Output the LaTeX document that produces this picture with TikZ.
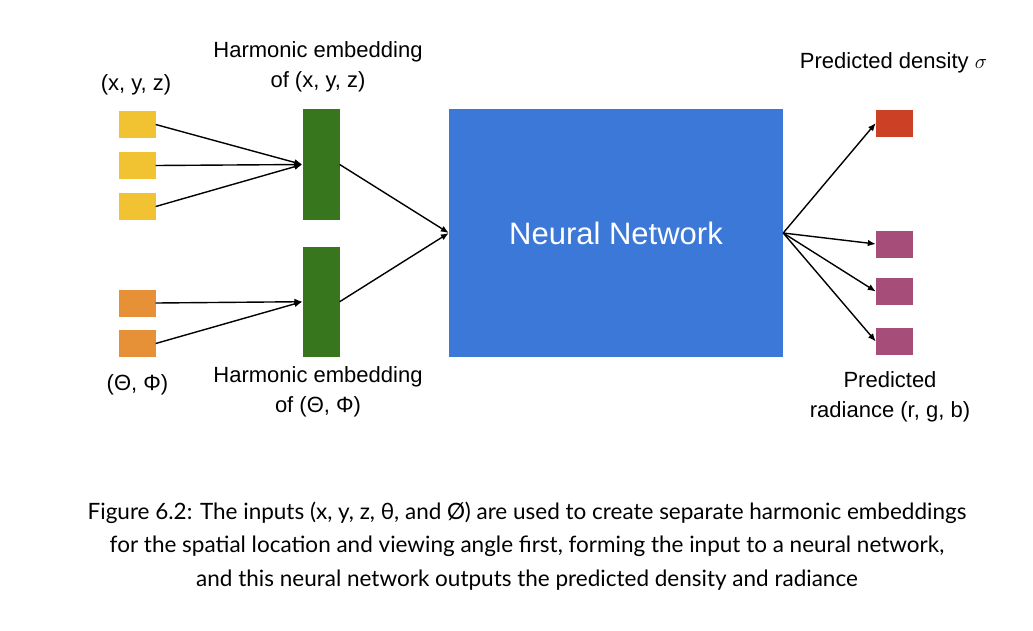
\documentclass[tikz,border=0pt]{standalone}
\usepackage{fontspec}
\setmainfont{Liberation Sans}
\newfontfamily\capfont{Lato}
\usetikzlibrary{arrows.meta}
\definecolor{inyellow}{HTML}{F1C232}
\definecolor{inorange}{HTML}{E69138}
\definecolor{embgreen}{HTML}{38761D}
\definecolor{netblue}{HTML}{3C78D8}
\definecolor{outred}{HTML}{CC4125}
\definecolor{outpink}{HTML}{A64D79}
\def\cellw{37}
\def\cellh{27}
\tikzset{
  cell/.style={minimum width=\cellw pt,minimum height=\cellh pt,inner sep=0pt},
  bar/.style={minimum width=\cellw pt,inner sep=0pt,fill=embgreen},
  link/.style={line width=1.4pt,-{Latex[length=8pt,width=6.5pt]}},
  lbl/.style={font=\fontsize{22}{30}\selectfont,align=center,inner sep=0pt}
}

\begin{document}
\begin{tikzpicture}[x=1pt,y=-1pt]
\fill[white] (0,0) rectangle (1033,630);
\useasboundingbox (0,0) rectangle (1033,630);
% inputs
\foreach \i/\y in {1/124.5,2/165.5,3/206.5}
  \node[cell,fill=inyellow] (xyz\i) at (137,\y) {};
\foreach \i/\y in {1/303,2/343.5}
  \node[cell,fill=inorange] (ang\i) at (137,\y) {};
% embeddings and network
\node[bar,minimum height=111pt] (embxyz) at (321,164.5) {};
\node[bar,minimum height=110pt] (embang) at (321,301.7) {};
\node[fill=netblue,inner sep=0pt,minimum width=334pt,minimum height=248pt,
  text=white,font=\fontsize{31}{36}\selectfont] (net) at (616,233) {Neural Network};
% outputs
\node[cell,fill=outred] (dens) at (894.5,123) {};
\foreach \i/\y in {1/244,2/291.5,3/341.5}
  \node[cell,fill=outpink] (rad\i) at (894.5,\y) {};
% connectors
\foreach \i in {1,2,3}
  \draw[link] (xyz\i.east) -- (embxyz.west);
\foreach \i in {1,2}
  \draw[link] (ang\i.east) -- (embang.west);
\draw[link] (embxyz.east) -- (net.west);
\draw[link] (embang.east) -- (net.west);
\draw[link] (net.east) -- (dens.west);
\foreach \i in {1,2,3}
  \draw[link] (net.east) -- (rad\i.west);
% labels
\node[lbl] (xyzlbl) at (136,85) {(x, y, z)};
\node[lbl] (anglbl) at (137.5,385) {(Θ, Φ)};
\node[lbl] (embxyzlbl) at (318,66.5) {Harmonic embedding\\of (x, y, z)};
\node[lbl] (embanglbl) at (318,391.5) {Harmonic embedding\\of (Θ, Φ)};
\node[lbl] (denslbl) at (893.5,63) {Predicted density $\sigma$};
\node[lbl] (radlbl) at (890,396.5) {Predicted\\radiance (r, g, b)};
% caption
\node[align=center,inner sep=0pt,font=\capfont\fontsize{22.5}{33.5}\selectfont] (cap) at (527,546)
  {Figure 6.2: The inputs (x, y, z, θ, and Ø) are used to create separate harmonic embeddings\\
   for the spatial location and viewing angle first, forming the input to a neural network,\\
   and this neural network outputs the predicted density and radiance};
\end{tikzpicture}
\end{document}
